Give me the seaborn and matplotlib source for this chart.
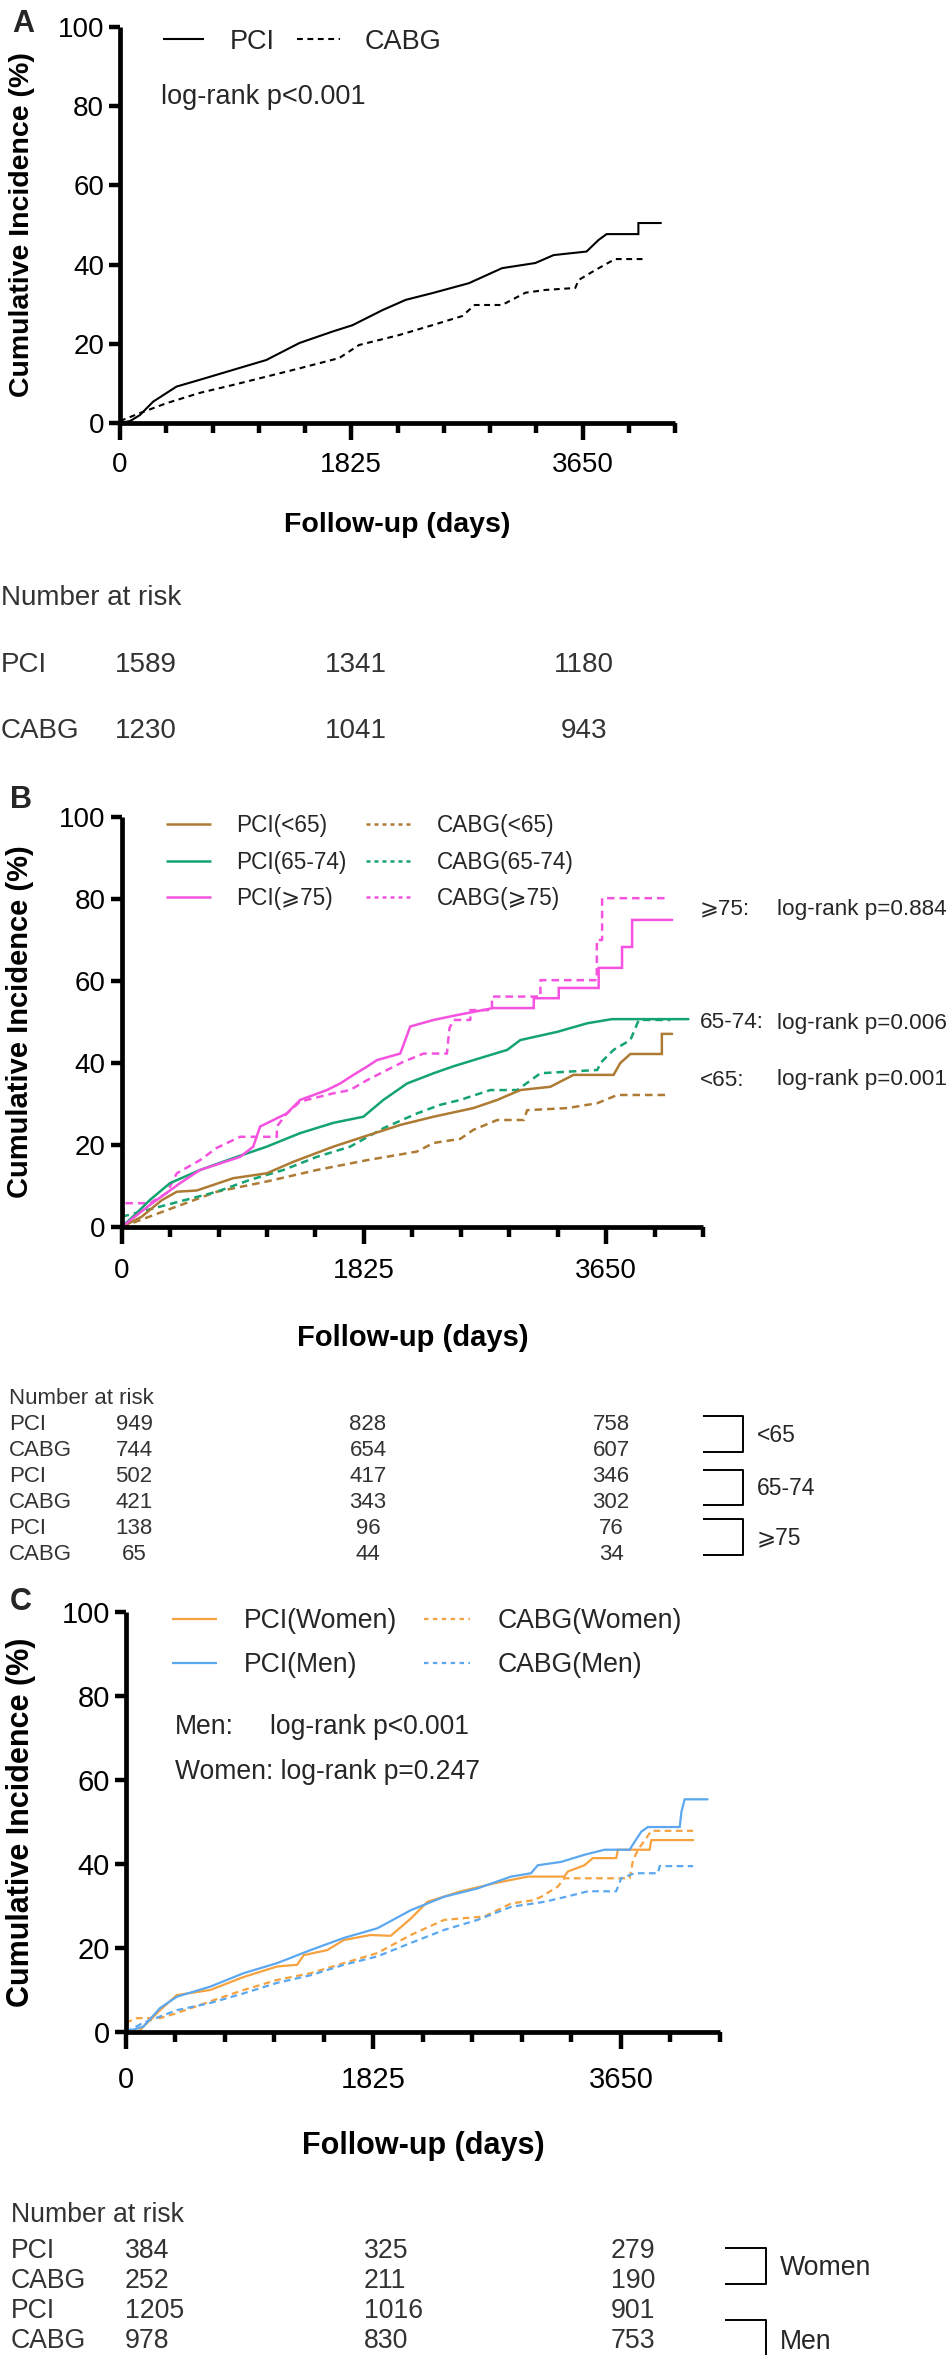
import numpy as np
import pandas as pd
import matplotlib
matplotlib.use("Agg")
import matplotlib.pyplot as plt
from matplotlib.lines import Line2D
import seaborn as sns

# ---------------- DATA ----------------
# Panel A
A_PCI_DAYS = [0, 80, 157, 262, 446, 629, 891, 1154, 1416, 1678, 1835, 2071, 2255, 2465, 2753, 3015, 3278, 3422, 3682, 3776, 3840, 4091, 4091, 4269]
A_PCI_PCT = [0, 0.5, 2.0, 5.4, 9.2, 10.9, 13.4, 15.9, 20.2, 23.1, 24.7, 28.5, 31.1, 32.8, 35.3, 39.1, 40.4, 42.4, 43.3, 46.2, 47.7, 47.7, 50.5, 50.5]
A_CABG_DAYS = [0, 157, 367, 629, 891, 1154, 1416, 1730, 1887, 2202, 2465, 2700, 2800, 3015, 3200, 3357, 3593, 3619, 3750, 3907, 4145]
A_CABG_PCT = [0.5, 2.5, 5.0, 7.6, 9.6, 11.7, 13.8, 16.4, 19.7, 22.2, 24.7, 27.0, 29.8, 29.8, 32.9, 33.6, 34.1, 36.1, 38.6, 41.4, 41.4]

# Panel B
B_PCI65_DAYS = [0, 150, 300, 415, 565, 840, 1093, 1293, 1595, 1821, 2100, 2350, 2650, 2830, 3004, 3230, 3404, 3706, 3757, 3833, 4070, 4070, 4147]
B_PCI65_PCT = [0, 2.5, 6.5, 8.6, 8.9, 11.9, 13.1, 15.9, 19.6, 22.0, 24.9, 26.9, 29.0, 31.0, 33.4, 34.2, 37.1, 37.1, 40.0, 42.2, 42.2, 47.1, 47.1]
B_CABG65_DAYS = [0, 339, 716, 1093, 1470, 1848, 2225, 2350, 2551, 2650, 2830, 3030, 3055, 3357, 3584, 3734, 4110]
B_CABG65_PCT = [0, 4.1, 8.6, 11.1, 13.9, 16.3, 18.4, 20.5, 21.5, 23.7, 26.1, 26.1, 28.5, 29.0, 30.2, 32.2, 32.2]
B_PCI6574_DAYS = [0, 100, 213, 364, 590, 840, 1093, 1345, 1595, 1821, 1972, 2150, 2350, 2500, 2650, 2905, 3004, 3282, 3509, 3694, 4270]
B_PCI6574_PCT = [0, 3.0, 6.6, 10.7, 13.9, 16.8, 19.6, 22.9, 25.4, 26.9, 31.0, 35.0, 37.5, 39.2, 40.7, 43.2, 45.6, 47.6, 49.7, 50.7, 50.7]
B_CABG6574_DAYS = [0, 339, 716, 967, 1218, 1470, 1721, 1972, 2225, 2400, 2551, 2777, 2980, 3155, 3584, 3607, 3706, 3833, 3896, 4135]
B_CABG6574_PCT = [2.5, 5.4, 8.6, 11.5, 13.9, 17.1, 19.6, 24.1, 27.7, 29.8, 31.0, 33.4, 33.4, 37.5, 38.3, 40.0, 43.2, 45.6, 50.5, 50.5]
B_PCI75_DAYS = [0, 213, 440, 590, 892, 991, 1043, 1244, 1345, 1546, 1646, 1746, 1848, 1923, 2099, 2174, 2350, 2528, 2800, 3105, 3105, 3293, 3293, 3594, 3594, 3770, 3770, 3846, 3846, 4148]
B_PCI75_PCT = [0, 5.4, 10.7, 13.9, 17.1, 19.6, 24.5, 27.7, 31.0, 33.4, 35.0, 37.1, 39.1, 40.7, 42.3, 48.9, 50.5, 51.7, 53.4, 53.4, 55.8, 55.8, 58.3, 58.3, 63.2, 63.2, 68.3, 68.3, 74.9, 74.9]
B_CABG75_DAYS = [0, 20, 213, 339, 415, 590, 716, 892, 1169, 1169, 1244, 1345, 1595, 1721, 1848, 2122, 2275, 2450, 2470, 2501, 2627, 2627, 2790, 2790, 3155, 3155, 3580, 3580, 3620, 3620, 4110]
B_CABG75_PCT = [0, 5.8, 5.8, 8.3, 13.1, 16.3, 19.3, 22.0, 22.0, 24.5, 27.7, 30.6, 32.6, 33.4, 35.8, 40.3, 42.3, 42.3, 48.5, 50.5, 50.5, 52.9, 52.9, 56.2, 56.2, 60.2, 60.2, 70.0, 70.0, 80.2, 80.2]

# Panel C
C_PCIM_DAYS = [0, 130, 253, 377, 623, 869, 1116, 1362, 1608, 1855, 2101, 2347, 2594, 2840, 2987, 3037, 3209, 3381, 3529, 3714, 3751, 3800, 3849, 4083, 4096, 4120, 4288]
C_PCIM_PCT = [0, 1.3, 5.7, 8.4, 10.8, 14.0, 16.4, 19.5, 22.4, 24.7, 29.0, 32.2, 34.2, 37.0, 37.8, 39.7, 40.5, 42.2, 43.4, 43.4, 45.3, 47.7, 48.8, 48.8, 52.5, 55.4, 55.4]
C_PCIW_DAYS = [0, 100, 253, 377, 623, 869, 1116, 1263, 1312, 1485, 1608, 1805, 1953, 2101, 2224, 2470, 2716, 2963, 3233, 3258, 3381, 3443, 3615, 3628, 3861, 3874, 4182]
C_PCIW_PCT = [0, 0.3, 5.2, 8.8, 10.0, 13.1, 15.6, 16.0, 18.3, 19.5, 21.9, 23.1, 22.9, 27.0, 31.0, 33.5, 35.4, 37.0, 37.0, 38.2, 39.7, 41.4, 41.4, 43.4, 43.4, 45.7, 45.7]
C_CABGW_DAYS = [0, 81, 253, 377, 623, 869, 1116, 1362, 1608, 1855, 2101, 2347, 2643, 2840, 3011, 3062, 3184, 3233, 3714, 3739, 3776, 3874, 4182]
C_CABGW_PCT = [2.2, 3.3, 3.3, 4.5, 7.3, 10.0, 12.4, 14.0, 16.4, 18.8, 23.1, 26.7, 27.5, 30.6, 31.4, 32.2, 34.6, 36.6, 36.6, 40.9, 43.4, 47.9, 47.9]
C_CABGM_DAYS = [0, 130, 377, 623, 869, 1116, 1362, 1608, 1855, 2101, 2347, 2594, 2840, 3086, 3258, 3406, 3615, 3652, 3751, 3923, 3935, 4182]
C_CABGM_PCT = [0, 2.2, 5.2, 6.9, 9.2, 11.7, 13.5, 16.0, 18.0, 21.2, 24.3, 26.7, 29.8, 31.0, 32.3, 33.5, 33.5, 36.6, 37.8, 37.8, 39.5, 39.5]

X_TICKS = [0, 1825, 3650]
X_TICK_LABELS = ["0", "1825", "3650"]
Y_TICKS = [0, 20, 40, 60, 80, 100]

RISK_A_ROWS = ["PCI", "CABG"]
RISK_A = [[1589, 1341, 1180], [1230, 1041, 943]]
RISK_B_ROWS = ["PCI", "CABG", "PCI", "CABG", "PCI", "CABG"]
RISK_B = [[949, 828, 758], [744, 654, 607], [502, 417, 346], [421, 343, 302], [138, 96, 76], [65, 44, 34]]
RISK_B_GROUPS = ["<65", "65-74", "\u2a7e75"]
RISK_C_ROWS = ["PCI", "CABG", "PCI", "CABG"]
RISK_C = [[384, 325, 279], [252, 211, 190], [1205, 1016, 901], [978, 830, 753]]
RISK_C_GROUPS = ["Women", "Men"]

# ---------------- STYLE ----------------
sns.set_theme(style="white")
FAM = ["Liberation Sans", "DejaVu Sans"]
plt.rcParams["font.family"] = FAM

W, H = 950, 2355
fig = plt.figure(figsize=(W / 100, H / 100), dpi=100)
fig.patch.set_facecolor("white")

BROWN = "#AD7B34"
GREEN = "#14A372"
MAGENTA = "#F552E0"
ORANGE = "#F6A23E"
BLUE = "#5BA8F0"
TXT = "#333333"


def ftext(x, y, s, size, **kw):
    kw.setdefault("va", "center")
    fig.text(x / W, 1 - y / H, s, fontsize=size, family=FAM, **kw)


def fline(xs, ys, color="black", lw=1.6, dashes=None):
    ln = Line2D([x / W for x in xs], [1 - y / H for y in ys], transform=fig.transFigure,
                color=color, lw=lw, solid_capstyle="butt", dash_capstyle="butt")
    if dashes:
        ln.set_dashes(dashes)
    fig.add_artist(ln)


def make_axes(left, right, top, bottom, tick_fs, label_fs, xpad, xlab_y, ylab_x):
    ax = fig.add_axes([left / W, 1 - bottom / H, (right - left) / W, (bottom - top) / H])
    ax.set_facecolor("white")
    return ax


def style_axes(ax, left, right, top, bottom, tick_fs, label_fs, xpad, xlab_y, ylab_x):
    ax.set_xlim(0, 4380)
    ax.set_ylim(0, 100)
    sns.despine(ax=ax)
    for s in ["left", "bottom"]:
        ax.spines[s].set_linewidth(3.4)
        ax.spines[s].set_color("black")
        ax.spines[s].set_capstyle("butt")
    ax.set_xticks(X_TICKS)
    ax.set_xticklabels(X_TICK_LABELS)
    ax.set_xticks(np.arange(0, 4381, 365), minor=True)
    ax.set_yticks(Y_TICKS)
    ax.set_yticklabels([str(v) for v in Y_TICKS])
    ax.tick_params(axis="x", which="major", bottom=True, direction="out", length=12.5, width=3.2,
                   labelsize=tick_fs, pad=xpad, color="black", labelcolor="black")
    ax.tick_params(axis="x", which="minor", bottom=True, direction="out", length=7.5, width=3.2, color="black")
    ax.tick_params(axis="y", which="major", left=True, direction="out", length=8, width=3.2,
                   labelsize=tick_fs, pad=3.5, color="black", labelcolor="black")
    for lab in ax.get_xticklabels() + ax.get_yticklabels():
        lab.set_family(FAM)
    ax.set_xlabel("Follow-up (days)", fontsize=label_fs, fontweight="bold", family=FAM, color="black")
    ax.set_ylabel("Cumulative Incidence (%)", fontsize=label_fs, fontweight="bold", family=FAM, color="black")
    ax.xaxis.set_label_coords(0.5, (bottom - xlab_y) / (bottom - top))
    ax.xaxis.label.set_va("center")
    ax.yaxis.set_label_coords((ylab_x - left) / (right - left), 0.5)
    ax.yaxis.label.set_va("center")
    ax.grid(False)


def km(ax, days, pct, color, lw, dashed=False, dashes=(3, 2)):
    sns.lineplot(x=days, y=pct, ax=ax, color=color, lw=lw, estimator=None, sort=False)
    ln = ax.lines[-1]
    ln.set_solid_joinstyle("miter")
    if dashed:
        ln.set_dashes(dashes)
        ln.set_dash_capstyle("butt")


# ---------------- PANEL A ----------------
A = dict(left=120, right=675, top=27, bottom=423)
axA = make_axes(**A, tick_fs=20, label_fs=20.5, xpad=8.5, xlab_y=525, ylab_x=22.5)
km(axA, A_PCI_DAYS, A_PCI_PCT, "black", 1.5)
km(axA, A_CABG_DAYS, A_CABG_PCT, "black", 1.5, dashed=True, dashes=(2.8, 2.2))
style_axes(axA, **A, tick_fs=20, label_fs=20.5, xpad=8.5, xlab_y=525, ylab_x=22.5)

ftext(23, 32, "A", 22, weight="bold", ha="center", va="baseline")
fline([163, 204], [39, 39], lw=1.5)
ftext(230, 42, "PCI", 19.5)
fline([297, 340], [39, 39], lw=1.5, dashes=(2.8, 2.2))
ftext(365, 42, "CABG", 19.5)
ftext(161, 97, "log-rank p<0.001", 19.5)

ftext(1, 598, "Number at risk", 20, color=TXT)
A_COLS = [146, 356, 584]
for i, (name, row) in enumerate(zip(RISK_A_ROWS, RISK_A)):
    y = [665, 731][i]
    ftext(1, y, name, 20, color=TXT)
    for xc, v in zip(A_COLS, row):
        ftext(xc, y, str(v), 20, color=TXT, ha="center")

# ---------------- PANEL B ----------------
B = dict(left=121.7, right=703, top=817, bottom=1227)
axB = make_axes(**B, tick_fs=20, label_fs=21, xpad=9.5, xlab_y=1338, ylab_x=20)
km(axB, B_CABG65_DAYS, B_CABG65_PCT, BROWN, 1.8, dashed=True)
km(axB, B_CABG6574_DAYS, B_CABG6574_PCT, GREEN, 1.8, dashed=True)
km(axB, B_CABG75_DAYS, B_CABG75_PCT, MAGENTA, 1.8, dashed=True)
km(axB, B_PCI65_DAYS, B_PCI65_PCT, BROWN, 1.8)
km(axB, B_PCI6574_DAYS, B_PCI6574_PCT, GREEN, 1.8)
km(axB, B_PCI75_DAYS, B_PCI75_PCT, MAGENTA, 1.8)
style_axes(axB, **B, tick_fs=20, label_fs=21, xpad=9.5, xlab_y=1338, ylab_x=20)

ftext(21, 808, "B", 22, weight="bold", ha="center", va="baseline")
B_LEG = [("PCI(<65)", "CABG(<65)", BROWN, 824), ("PCI(65-74)", "CABG(65-74)", GREEN, 861),
         ("PCI(\u2a7e75)", "CABG(\u2a7e75)", MAGENTA, 897)]
for l1, l2, c, y in B_LEG:
    fline([166, 211], [y, y], color=c, lw=1.8)
    ftext(236, y + 2, l1, 16.3)
    fline([366, 412], [y, y], color=c, lw=1.8, dashes=(1.6, 1.6))
    ftext(437, y + 2, l2, 16.3)
for lab, p, y in [("\u2a7e75:", "log-rank p=0.884", 907), ("65-74:", "log-rank p=0.006", 1021),
                  ("<65:", "log-rank p=0.001", 1078)]:
    ftext(700, y + 2, lab, 16.2)
    ftext(777, y + 2, p, 16.2)

ftext(9, 1399, "Number at risk", 16, color=TXT)
B_COLS = [134, 368, 611]
B_ROW_Y = [1423, 1449, 1475, 1501, 1527, 1553]
for name, row, y in zip(RISK_B_ROWS, RISK_B, B_ROW_Y):
    ftext(9, y + 1, name, 16, color=TXT)
    for xc, v in zip(B_COLS, row):
        ftext(xc, y + 1, str(v), 16, color=TXT, ha="center")
for g, (y0, y1) in zip(RISK_B_GROUPS, [(1416, 1452), (1470, 1505), (1519, 1555)]):
    fline([703, 743, 743, 703], [y0, y0, y1, y1], lw=1.4)
    ftext(757, (y0 + y1) / 2 + 1, g, 16.5)

# ---------------- PANEL C ----------------
C = dict(left=125.7, right=720, top=1612, bottom=2032)
axC = make_axes(**C, tick_fs=21, label_fs=22, xpad=12, xlab_y=2146, ylab_x=21)
km(axC, C_CABGW_DAYS, C_CABGW_PCT, ORANGE, 1.6, dashed=True)
km(axC, C_CABGM_DAYS, C_CABGM_PCT, BLUE, 1.6, dashed=True)
km(axC, C_PCIW_DAYS, C_PCIW_PCT, ORANGE, 1.6)
km(axC, C_PCIM_DAYS, C_PCIM_PCT, BLUE, 1.6)
style_axes(axC, **C, tick_fs=21, label_fs=22, xpad=12, xlab_y=2146, ylab_x=21)

ftext(21, 1610, "C", 22, weight="bold", ha="center", va="baseline")
for l1, l2, c, y in [("PCI(Women)", "CABG(Women)", ORANGE, 1619), ("PCI(Men)", "CABG(Men)", BLUE, 1663)]:
    fline([172, 217], [y, y], color=c, lw=1.6)
    ftext(244, y + 2, l1, 19.2)
    fline([424, 470], [y, y], color=c, lw=1.6, dashes=(2, 2))
    ftext(498, y + 2, l2, 19.2)
ftext(175, 1727, "Men:", 19.1)
ftext(270, 1727, "log-rank p<0.001", 19.1)
ftext(175, 1772, "Women: log-rank p=0.247", 19.1)

ftext(11, 2215, "Number at risk", 19.2, color=TXT)
C_ROW_Y = [2251, 2281, 2311, 2341]
for name, row, y in zip(RISK_C_ROWS, RISK_C, C_ROW_Y):
    ftext(11, y, name, 19.2, color=TXT)
    ftext(125, y, str(row[0]), 19.2, color=TXT, ha="left")
    ftext(364, y, str(row[1]), 19.2, color=TXT, ha="left")
    ftext(655, y, str(row[2]), 19.2, color=TXT, ha="right")
fline([725, 766, 766, 725], [2248, 2248, 2284, 2284], lw=1.4)
ftext(780, 2268, RISK_C_GROUPS[0], 19.2)
fline([725, 766, 766, 725], [2320, 2320, 2380, 2380], lw=1.4)
ftext(780, 2342, RISK_C_GROUPS[1], 19.2)

fig.savefig("out.png", dpi=100, facecolor="white")
